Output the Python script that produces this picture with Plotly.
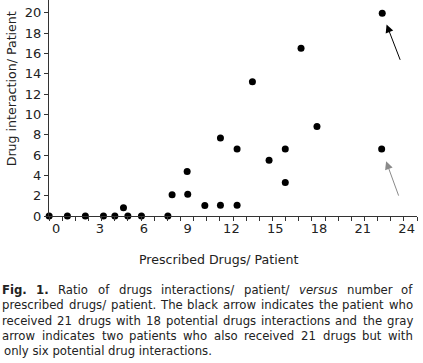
import plotly.graph_objects as go

# ---- data ----
drugs = [-0.48, 0.77, 2.0, 3.24, 4.02, 4.61, 4.91, 5.84, 7.65, 7.94, 9.01, 8.97,
         10.18, 11.25, 12.39, 11.25, 12.39, 13.44, 14.58, 15.69, 15.69, 16.77,
         17.86, 22.33, 22.29]
interactions = [0, 0, 0, 0, 0, 0.8, 0, 0, 0, 2.08, 2.14, 4.37,
                1.03, 1.06, 1.06, 7.67, 6.58, 13.2, 5.48, 6.58, 3.29, 16.5,
                8.81, 19.94, 6.58]
x_ticks = [0, 3, 6, 9, 12, 15, 18, 21, 24]
y_ticks = [0, 2, 4, 6, 8, 10, 12, 14, 16, 18, 20]
x_title = "Prescribed Drugs/ Patient"
y_title = "Drug interaction/ Patient"

caption_lines = [
    [("Fig.", "b"), ("1.", "b"), ("Ratio", ""), ("of", ""), ("drugs", ""), ("interactions/", ""),
     ("patient/", ""), ("versus", "i"), ("number", ""), ("of", "")],
    "prescribed drugs/ patient. The black arrow indicates the patient who",
    "received 21 drugs with 18 potential drugs interactions and the gray",
    "arrow indicates two patients who also received 21 drugs but with",
    "only six potential drug interactions.",
]

# ---- layout constants ----
W, H = 423, 363
ML, MR, MT, MB = 49, 6, 0, 146.5
PW = W - ML - MR
PH = H - MT - MB
XR = [-0.49, 24.71]
YR = [0, 21.25]
FONT = "DejaVu Sans, Verdana, sans-serif"
TXT = "#222"


def px_to_paper_x(px):
    return (px - ML) / PW


def py_to_paper_y(py):
    return (H - MB - py) / PH


fig = go.Figure()
fig.add_trace(go.Scatter(
    x=drugs, y=interactions, mode="markers",
    marker=dict(size=7, color="black"), cliponaxis=False, showlegend=False,
    hoverinfo="skip"))

fig.update_layout(
    width=W, height=H, margin=dict(l=ML, r=MR, t=MT, b=MB, pad=0, autoexpand=False),
    paper_bgcolor="white", plot_bgcolor="white",
    font=dict(family=FONT, color=TXT),
    xaxis=dict(range=XR, tickvals=x_ticks, ticktext=[str(v) for v in x_ticks],
               ticks="", showgrid=False, zeroline=False, showline=True, automargin=False,
               linecolor="#333", linewidth=1, tickfont=dict(size=13),
               minor=dict(tick0=XR[0], dtick=(XR[1] - XR[0]) / 28, ticks="outside",
                          ticklen=4, tickcolor="#333", showgrid=False)),
    yaxis=dict(range=YR, tickvals=y_ticks, ticks="outside", ticklen=4, tickcolor="#333",
               showgrid=False, zeroline=False, showline=True, linecolor="#333",
               linewidth=1, tickfont=dict(size=13), automargin=False),
)

# axis titles (placed where the reference has them)
fig.add_annotation(text=x_title, xref="paper", yref="paper",
                   x=px_to_paper_x(218), y=py_to_paper_y(260), xanchor="center",
                   yanchor="middle", showarrow=False, font=dict(size=12.6, color=TXT))
fig.add_annotation(text=y_title, xref="paper", yref="paper", textangle=-90,
                   x=px_to_paper_x(11), y=py_to_paper_y(89.5), xanchor="center",
                   yanchor="middle", showarrow=False, font=dict(size=12.6, color=TXT))

# arrows pointing at the two 21-drug patients
i_black = interactions.index(max(interactions))
i_gray = len(drugs) - 1
fig.add_annotation(x=drugs[i_black], y=interactions[i_black], ax=18.5, ay=48,
                   showarrow=True, arrowhead=2, arrowsize=1.6, arrowwidth=1,
                   arrowcolor="black", standoff=12, text="")
fig.add_annotation(x=drugs[i_gray], y=interactions[i_gray], ax=17.5, ay=48,
                   showarrow=True, arrowhead=2, arrowsize=1.6, arrowwidth=1,
                   arrowcolor="#8a8a8a", standoff=13, text="")

# ---- caption (justified by hand, using DejaVu Sans advance widths) ----
REG = {' ': 651, '.': 651, ',': 651, '/': 690,
       'a': 1255, 'b': 1300, 'c': 1126, 'd': 1300, 'e': 1260, 'f': 721, 'g': 1300,
       'h': 1298, 'i': 569, 'j': 569, 'k': 1186, 'l': 569, 'm': 1995, 'n': 1298,
       'o': 1253, 'p': 1300, 'q': 1300, 'r': 842, 's': 1067, 't': 803, 'u': 1298,
       'v': 1212, 'w': 1675, 'x': 1212, 'y': 1212, 'z': 1075,
       'F': 1178, 'R': 1423, 'T': 1251, 'P': 1235, 'D': 1577}
for dgt in "0123456789":
    REG[dgt] = 1303
BOLD = {'F': 1405, 'i': 702, 'g': 1466, '.': 780, '1': 1425, ' ': 713}
CAP_SIZE = 11.7
CAP_L, CAP_R = 2.0, 413.0
CAP_Y0, CAP_DY = 291, 15.2


def word_width(w, style):
    tbl = BOLD if style == "b" else REG
    return sum(tbl.get(c, REG.get(c, 1200)) for c in w) / 2048 * CAP_SIZE


for li, line in enumerate(caption_lines):
    y = py_to_paper_y(CAP_Y0 + li * CAP_DY)
    if isinstance(line, str):
        words = [(w, "") for w in line.split(" ")]
    else:
        words = line
    last = li == len(caption_lines) - 1
    if last:
        fig.add_annotation(text=line, xref="paper", yref="paper",
                           x=px_to_paper_x(CAP_L), y=y, xanchor="left", yanchor="middle",
                           showarrow=False, font=dict(size=CAP_SIZE, family=FONT, color=TXT))
        continue
    widths = [word_width(w, s) for w, s in words]
    gap = (CAP_R - CAP_L - sum(widths)) / (len(words) - 1)
    cur = CAP_L
    for (w, s), ww in zip(words, widths):
        txt = f"<{s}>{w}</{s}>" if s else w
        fig.add_annotation(text=txt, xref="paper", yref="paper",
                           x=px_to_paper_x(cur + ww / 2), y=y, xanchor="center",
                           yanchor="middle", showarrow=False,
                           font=dict(size=CAP_SIZE, family=FONT, color=TXT))
        cur += ww + gap

fig.write_html("out.html", config={"displayModeBar": False},
               post_script="document.body.style.margin='0';document.body.style.overflow='hidden';")
